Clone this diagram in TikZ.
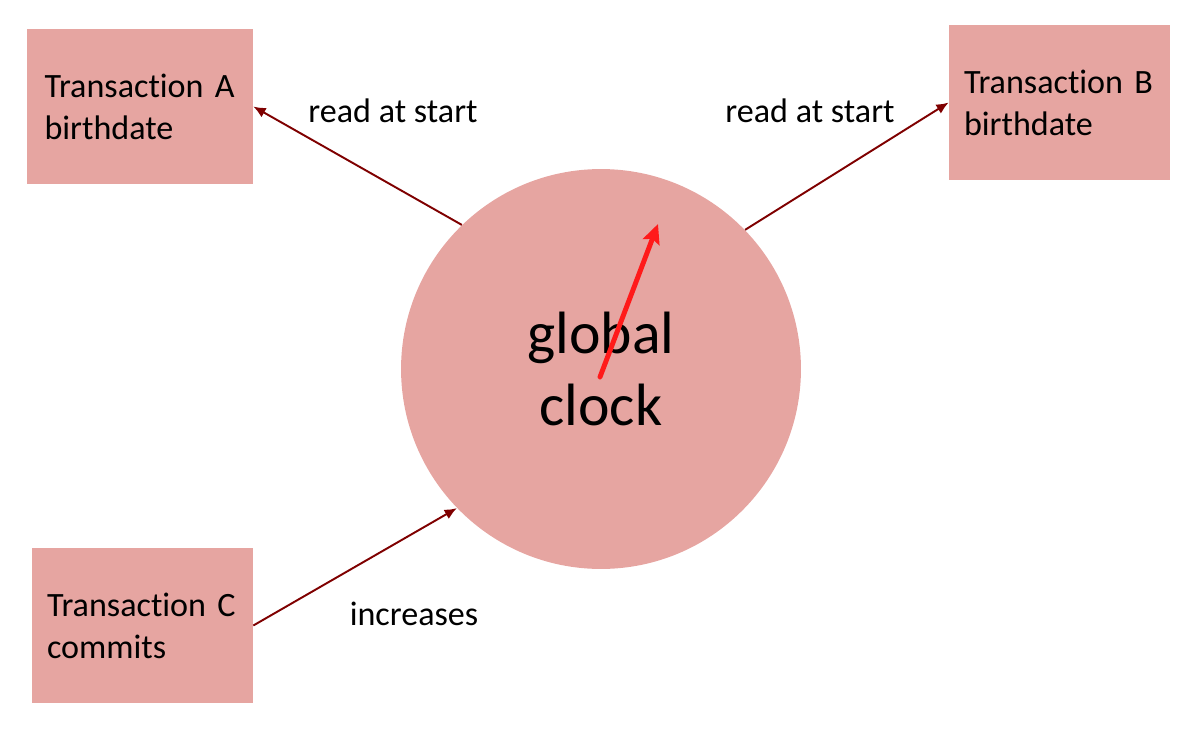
\documentclass[tikz,border=0pt]{standalone}
\usepackage{fontspec}
\setmainfont{Carlito}[Ligatures=NoCommon]
\usepackage{tikz}
\usetikzlibrary{positioning,arrows.meta}

\definecolor{boxpink}{HTML}{E6A5A1}
\definecolor{arrowred}{HTML}{7F0000}
\definecolor{handred}{HTML}{FF1A1A}

\tikzset{
  txn/.style={rectangle, fill=boxpink, minimum width=4.42cm, minimum height=3.1cm,
    text width=3.82cm, align=left, inner xsep=0.3cm, inner ysep=0.3cm,
    font=\fontsize{19.4}{24}\selectfont},
  lbl/.style={inner sep=0pt, font=\fontsize{19.4}{24}\selectfont},
  link/.style={-{Latex[length=7pt,width=6pt]}, draw=arrowred, line width=1.1pt},
  hand/.style={-{Stealth[length=11pt,width=10pt,inset=2pt]}, draw=handred, line width=2.8pt, line cap=round},
}

\begin{document}
\begin{tikzpicture}[x=0.02cm, y=-0.02cm]
\useasboundingbox (0,0) rectangle (1198,744);
  \node[circle, fill=boxpink, minimum size=8cm, align=center,
    font=\fontsize{34}{41}\selectfont] (clock) at (601,369) {global\\clock};
  \node[txn, minimum width=4.52cm] (txnA) at (140,106.5) {Transaction A\\birthdate};
  \node[txn] (txnB) at (1059.5,102.5) {Transaction B\\birthdate};
  \node[txn] (txnC) at (142.5,625.5) {Transaction C\\commits};

  % clock hand
  \coordinate (handbase) at ([shift={(-1,8)}]clock.center);
  \coordinate (handtip) at ([shift={(57,-145)}]clock.center);
  \draw[hand] (handbase) -- (handtip);

  \draw[link] (clock.134) -- (txnA.east);
  \draw[link] (clock.44) -- (txnB.west);
  \draw[link] (txnC.east) -- (clock.224);

  \node[lbl] (readA) at (393,111) {read at start};
  \node[lbl] (readB) at (810,111) {read at start};
  \node[lbl] (incC) at (414,614) {increases};
\end{tikzpicture}
\end{document}
